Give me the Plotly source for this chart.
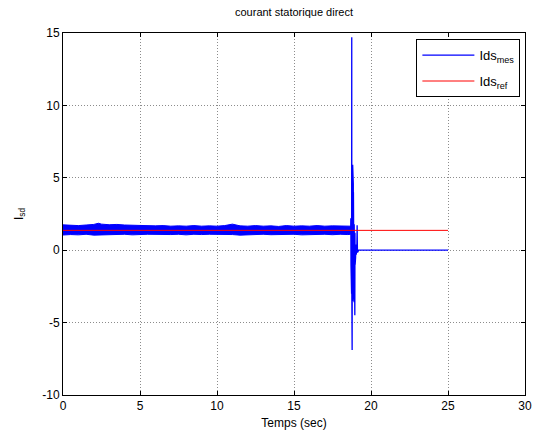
import plotly.graph_objects as go

# Measured direct-axis stator current: noise band (upper/lower envelope) before the fault
t_env = [0.0, 0.5, 1.0, 1.5, 2.0, 2.3, 2.5, 3.0, 3.5, 4.0, 4.5, 5.0, 5.5, 6.0, 6.5,
         7.0, 7.5, 8.0, 8.5, 9.0, 9.5, 10.0, 10.5, 11.0, 11.5, 12.0, 12.5, 13.0,
         13.5, 14.0, 14.5, 15.0, 15.5, 16.0, 16.5, 17.0, 17.5, 18.0, 18.5, 18.68]
env_upper = [1.75, 1.72, 1.70, 1.74, 1.78, 1.86, 1.80, 1.76, 1.78, 1.74, 1.72, 1.70,
             1.72, 1.68, 1.70, 1.66, 1.68, 1.66, 1.70, 1.66, 1.68, 1.66, 1.70, 1.80,
             1.68, 1.66, 1.70, 1.66, 1.68, 1.64, 1.70, 1.66, 1.68, 1.66, 1.70, 1.66,
             1.68, 1.66, 1.68, 1.66]
env_lower = [1.05, 1.08, 1.06, 1.10, 1.04, 1.06, 1.08, 1.05, 1.08, 1.10, 1.06, 1.08,
             1.10, 1.07, 1.10, 1.08, 1.10, 1.06, 1.10, 1.08, 1.10, 1.07, 1.10, 1.08,
             1.04, 1.10, 1.08, 1.10, 1.07, 1.10, 1.08, 1.10, 1.06, 1.10, 1.08, 1.10,
             1.07, 1.10, 1.08, 1.10]

# Measured current during the transient and after (held at zero)
t_mes = [18.68, 18.69, 18.70, 18.71, 18.72, 18.73, 18.74, 18.75, 18.755, 18.76, 18.765,
         18.77, 18.775, 18.78, 18.785, 18.79, 18.795, 18.80, 18.805, 18.81, 18.815,
         18.82, 18.825, 18.83, 18.835, 18.84, 18.845, 18.85, 18.855, 18.86, 18.865,
         18.87, 18.875, 18.88, 18.885, 18.89, 18.90, 18.91, 18.92, 18.93, 18.94,
         18.95, 18.96, 18.97, 18.98, 19.00, 19.02, 19.04, 19.06, 19.08, 19.10,
         19.12, 19.14, 19.16, 19.18, 25.0]
ids_mes = [1.4, 2.2, -1.0, 3.0, -2.5, 4.5, -3.0, 14.7, -3.2, 5.0, -3.4,
           5.4, -6.9, 5.6, -3.5, 5.9, -3.3, 5.8, -3.5, 5.9, -3.4,
           5.7, -3.3, 5.5, -3.5, 5.0, -3.2, 4.6, -3.4, 4.0, -3.0,
           3.4, -3.2, 3.0, -3.0, 2.4, -3.6, 1.8, -4.0, 1.5, -3.0,
           -4.5, 1.2, -1.0, 0.8, -0.5, 0.4, -0.3, 0.3, 0.0, 1.73,
           -0.15, 1.6, -0.1, 0.0, 0.0]

# Reference current
t_ref = [0.0, 25.0]
ids_ref = [1.37, 1.37]

x_ticks = [0, 5, 10, 15, 20, 25, 30]
y_ticks = [-10, -5, 0, 5, 10, 15]
y_tick_text = ["-10", "-5", "0", "5", "10", "15"]

BLUE = "rgb(0,0,255)"
RED = "rgb(255,0,0)"
FONT = "Liberation Sans, Arial, sans-serif"

fig = go.Figure()

# noise band of the measured signal
fig.add_trace(go.Scatter(
    x=t_env + t_env[::-1],
    y=env_upper + env_lower[::-1],
    fill="toself", fillcolor=BLUE, mode="lines",
    line=dict(color=BLUE, width=1),
    showlegend=False, legendgroup="mes", hoverinfo="skip",
))
fig.add_trace(go.Scatter(
    x=t_mes, y=ids_mes, mode="lines",
    line=dict(color=BLUE, width=1.3),
    name="Ids<sub>mes</sub>", legendgroup="mes",
))
fig.add_trace(go.Scatter(
    x=t_ref, y=ids_ref, mode="lines",
    line=dict(color=RED, width=1),
    name="Ids<sub>ref</sub>",
))

axis_common = dict(
    showline=True, linecolor="black", linewidth=1, mirror="ticks",
    ticks="inside", ticklen=4, tickcolor="black",
    showgrid=True, gridcolor="rgb(140,140,140)", griddash="1px,2px", gridwidth=1,
    zeroline=False, tickfont=dict(family=FONT, size=12, color="black"),
    automargin=False,
)

fig.update_xaxes(range=[0, 30], tickvals=x_ticks,
                 title=dict(text="Temps (sec)", font=dict(family=FONT, size=12, color="black"),
                            standoff=6),
                 **axis_common)
fig.update_yaxes(range=[-10, 15], tickvals=y_ticks, ticktext=y_tick_text,
                 title=dict(text="I<sub>sd</sub>", font=dict(family=FONT, size=12, color="black"),
                            standoff=16),
                 **axis_common)

fig.update_layout(
    width=537, height=436,
    margin=dict(l=63, r=12, t=33, b=41, autoexpand=False),
    paper_bgcolor="white", plot_bgcolor="white",
    title=dict(text="courant statorique direct", x=0.5, xref="paper",
               y=1 - 12 / 436, yref="container", yanchor="middle",
               font=dict(family=FONT, size=11, color="black")),
    legend=dict(x=0.99, y=0.983, xanchor="right", yanchor="top",
                bgcolor="white", bordercolor="black", borderwidth=1,
                font=dict(family=FONT, size=13, color="black"),
                tracegroupgap=6, itemwidth=52),
    showlegend=True,
)

fig.write_html("out.html")
